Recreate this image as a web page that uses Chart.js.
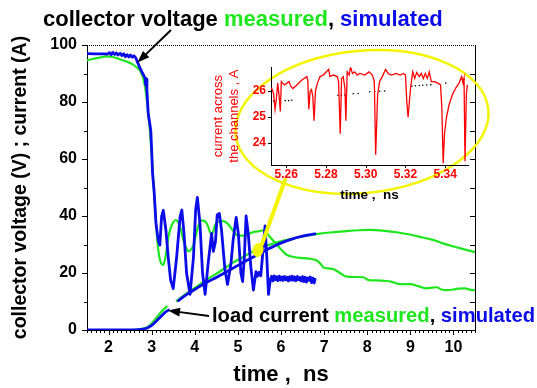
<!DOCTYPE html>
<html>
<head>
<meta charset="utf-8">
<script src="https://cdn.jsdelivr.net/npm/chart.js@4.4.1/dist/chart.umd.min.js"></script>
<style>
  html, body { margin: 0; padding: 0; background: #fff; }
  #wrap { position: relative; width: 537px; height: 388px; }
  #main { position: absolute; left: 0; top: 0; }
  #inset { position: absolute; left: 200px; top: 55px; }
</style>
</head>
<body>
<div id="wrap">
  <canvas id="main" width="537" height="388"></canvas>
  <canvas id="inset" width="285" height="155"></canvas>
</div>
<script>
const FONT = '"Liberation Sans", Arial, sans-serif';
const GREEN = '#1ee61e';
const BLUE = '#0c0ce8';
const RED = '#ff0000';
const YELLOW = '#f4f400';

// main axes
const timeTicks = [2, 3, 4, 5, 6, 7, 8, 9, 10];
const valueTicks = [0, 20, 40, 60, 80, 100];

// collector voltage, measured  [time ns, V]
const vcMeasured = [
  [1.5, 94.6], [1.6, 95.0], [1.8, 95.6], [1.95, 96.0], [2.1, 95.8], [2.25, 95.0], [2.4, 94.3],
  [2.55, 93.3], [2.65, 92.2], [2.73, 91.0], [2.8, 88.5], [2.86, 84.0], [2.92, 76.0], [2.97, 68.0],
  [3.02, 57.0], [3.06, 47.0], [3.1, 38.0], [3.14, 30.0], [3.18, 25.5], [3.22, 23.4], [3.27, 22.8],
  [3.33, 26.5], [3.39, 32.7], [3.45, 36.2], [3.5, 37.8], [3.56, 38.6], [3.62, 37.6], [3.68, 35.0],
  [3.73, 31.8], [3.8, 28.8], [3.86, 27.6], [3.91, 28.2], [3.97, 29.8], [4.03, 33.5], [4.08, 36.5],
  [4.14, 38.5], [4.24, 38.1], [4.31, 36.3], [4.35, 34.5], [4.39, 33.6], [4.43, 34.6], [4.47, 36.8],
  [4.55, 38.0], [4.66, 38.2], [4.78, 37.0], [4.89, 34.8], [4.97, 33.3], [5.1, 33.1], [5.2, 33.3],
  [5.3, 34.0], [5.4, 34.5], [5.5, 34.7], [5.59, 35.0], [5.66, 34.2], [5.74, 32.7], [5.82, 31.3],
  [5.9, 30.0], [6.0, 28.3], [6.13, 26.4], [6.3, 25.6], [6.52, 25.2], [6.7, 24.9], [6.83, 24.4],
  [6.93, 23.0], [6.98, 22.0], [7.1, 21.6], [7.21, 21.4], [7.35, 20.2], [7.52, 18.7], [7.7, 18.6],
  [7.91, 18.5], [8.03, 17.5], [8.2, 17.4], [8.45, 17.2], [8.55, 17.0], [8.76, 16.1], [9.0, 16.1],
  [9.2, 15.3], [9.38, 14.6], [9.5, 14.9], [9.61, 15.0], [9.72, 14.2], [9.84, 14.0], [10.0, 14.2],
  [10.1, 14.5], [10.27, 14.6], [10.4, 14.1], [10.5, 14.0]
];

// collector voltage, simulated
const vcSimulated = [
  [1.5, 97.0], [1.7, 96.9], [1.9, 96.9], [1.97, 96.8], [2.02, 97.3], [2.06, 96.6], [2.1, 97.4],
  [2.14, 96.7], [2.18, 97.2], [2.22, 96.5], [2.27, 97.1], [2.31, 96.3], [2.35, 96.9], [2.39, 95.9],
  [2.43, 96.6], [2.47, 95.8], [2.51, 96.5], [2.55, 95.7], [2.59, 96.2], [2.63, 95.5], [2.67, 94.0],
  [2.72, 92.3], [2.77, 90.6], [2.82, 89.2], [2.85, 88.3], [2.86, 86.0], [2.87, 88.0], [2.89, 84.0],
  [2.92, 76.0], [2.95, 73.0], [2.98, 70.0], [3.0, 63.0], [3.02, 55.0], [3.055, 49.0], [3.1, 37.4],
  [3.15, 31.6], [3.19, 29.8], [3.23, 39.8], [3.27, 42.0], [3.33, 35.1], [3.39, 24.6], [3.44, 17.5],
  [3.5, 14.5], [3.58, 25.7], [3.66, 39.8], [3.7, 42.1], [3.75, 33.9], [3.81, 19.9], [3.89, 12.5],
  [3.97, 25.7], [4.02, 42.1], [4.06, 46.5], [4.12, 37.4], [4.18, 19.9], [4.24, 12.5], [4.31, 23.4],
  [4.39, 33.9], [4.43, 27.6], [4.48, 31.0], [4.52, 40.4], [4.57, 40.9], [4.62, 35.1], [4.7, 21.1],
  [4.76, 16.0], [4.84, 23.4], [4.89, 31.6], [4.96, 39.5], [5.01, 33.9], [5.07, 19.9], [5.11, 17.0],
  [5.15, 25.7], [5.19, 40.0], [5.24, 33.9], [5.3, 22.2], [5.36, 14.0], [5.42, 20.5], [5.45, 18.8],
  [5.49, 20.2], [5.53, 19.0], [5.57, 25.7], [5.63, 36.5], [5.67, 25.7], [5.71, 12.5], [5.75, 17.5],
  [5.78, 18.8], [5.81, 17.2], [5.84, 19.0], [5.87, 17.6], [5.9, 18.7], [5.93, 17.3], [5.96, 18.9],
  [5.99, 17.5], [6.02, 18.6], [6.05, 17.4], [6.08, 18.8], [6.11, 17.6], [6.14, 18.5], [6.17, 17.2],
  [6.2, 18.7], [6.23, 17.5], [6.26, 18.9], [6.29, 17.4], [6.32, 18.6], [6.35, 17.3], [6.38, 18.8],
  [6.41, 17.6], [6.44, 18.4], [6.47, 17.2], [6.5, 18.7], [6.53, 17.0], [6.56, 18.5], [6.59, 16.8],
  [6.62, 18.3], [6.65, 17.4], [6.68, 18.6], [6.71, 16.6], [6.74, 18.2], [6.77, 16.5], [6.79, 17.8]
];

// load current, measured (null = break in the trace)
const ilMeasured = [
  [1.5, 0], [2.5, 0], [2.7, 0.2], [2.8, 0.5], [2.9, 1.0], [2.97, 1.8], [3.05, 3.2], [3.15, 5.0],
  [3.25, 6.8], [3.35, 8.2], [3.45, null], [3.58, 10.2], [3.7, 11.6], [3.85, 13.3], [4.04, 15.2],
  [4.3, 17.9], [4.59, 20.6], [4.85, 23.3], [5.13, 25.7], [5.35, 27.6], [5.59, 29.2], [5.85, 30.5],
  [6.13, 31.6], [6.4, 32.5], [6.67, 33.3], [6.9, 33.8], [7.14, 34.2], [7.52, 34.7], [7.8, 35.0],
  [8.06, 35.1], [8.35, 34.9], [8.68, 34.3], [8.95, 33.6], [9.22, 32.7], [9.5, 31.7], [9.76, 30.4],
  [10.0, 29.3], [10.25, 28.3], [10.5, 27.3]
];

// load current, simulated
const ilSimulated = [
  [1.5, 0], [2.6, 0], [2.8, 0.3], [2.9, 0.7], [3.0, 1.6], [3.1, 3.0], [3.2, 4.5], [3.3, 6.0],
  [3.39, 7.0], [3.47, null], [3.62, 10.3], [3.8, 12.3], [4.04, 14.6], [4.3, 16.9], [4.51, 18.5],
  [4.75, 20.5], [4.97, 22.4], [5.2, 24.4], [5.44, 26.3], [5.7, 28.4], [5.98, 30.4], [6.25, 31.9],
  [6.5, 32.9], [6.79, 33.7]
];

// inset: current across the channels
const zoomTicks = [5.26, 5.28, 5.30, 5.32, 5.34];
const zoomValueTicks = [24, 25, 26];
const channelCurrent = [
  [5.25233, 26.1], [5.253, 26.04], [5.25367, 25.85], [5.25433, 25.29], [5.255, 25.66], [5.25567, 26.29],
  [5.25633, 25.85], [5.257, 25.2], [5.2575, 26.35], [5.25817, 26.29], [5.259, 26.22], [5.26033, 26.29],
  [5.26133, 26.35], [5.26233, 26.16], [5.26333, 26.08], [5.26533, 26.22], [5.26783, 26.41], [5.27033, 26.54],
  [5.27083, 26.41], [5.27133, 25.29], [5.272, 25.97], [5.27267, 26.04], [5.27333, 25.79], [5.274, 24.85],
  [5.27467, 25.97], [5.27567, 26.29], [5.277, 26.54], [5.27867, 26.6], [5.28133, 26.82], [5.282, 26.54],
  [5.28367, 26.6], [5.28567, 26.54], [5.28633, 26.35], [5.28717, 24.35], [5.28783, 26.47], [5.28867, 26.54],
  [5.2895, 26.1], [5.29, 24.85], [5.29067, 26.72], [5.29167, 26.6], [5.29233, 26.91], [5.29333, 26.66],
  [5.2945, 26.72], [5.29567, 26.6], [5.297, 26.66], [5.2995, 26.6], [5.30167, 26.72], [5.30333, 26.6],
  [5.30433, 26.35], [5.305, 23.54], [5.306, 25.85], [5.307, 26.35], [5.30833, 26.54], [5.31, 26.82],
  [5.31133, 26.66], [5.31283, 26.6], [5.31533, 26.66], [5.31733, 26.6], [5.319, 26.66], [5.32, 26.6],
  [5.32067, 25.6], [5.32133, 24.98], [5.322, 25.6], [5.32267, 26.16], [5.32367, 26.72], [5.32467, 26.47],
  [5.32567, 26.7], [5.327, 26.54], [5.328, 26.66], [5.329, 26.47], [5.33, 26.66], [5.331, 26.47],
  [5.332, 26.72], [5.333, 26.35], [5.33467, 26.35], [5.33633, 26.29], [5.33767, 26.22], [5.33833, 25.35],
  [5.339, 23.22], [5.33967, 24.35], [5.34067, 24.98], [5.342, 25.47], [5.34367, 25.85], [5.34533, 26.1],
  [5.347, 26.29], [5.34833, 26.54], [5.349, 26.29], [5.3495, 26.47], [5.35, 23.29], [5.35067, 25.85],
  [5.35117, 26.22]
];
const channelMean = [
  [5.2525, 25.6], [5.2537, 25.6], [5.2567, 25.62], [5.2595, 25.62], [5.2612, 25.62], [5.2628, 25.63],
  [5.286, 25.82], [5.2878, 25.83], [5.2895, 25.84], [5.2937, 25.88], [5.2962, 25.89],
  [5.302, 25.96], [5.3045, 25.97], [5.307, 25.98], [5.3095, 25.99],
  [5.3233, 26.18], [5.325, 26.19], [5.327, 26.2], [5.3287, 26.21], [5.3307, 26.22], [5.3328, 26.23],
  [5.3403, 26.29], [5.3478, 26.43], [5.3495, 26.45]
];

const toXY = arr => arr.map(([x, y]) => ({ x, y }));

function drawParts(ctx, parts, x, y) {
  parts.forEach(([text, color]) => {
    ctx.fillStyle = color;
    ctx.fillText(text, x, y);
    x += ctx.measureText(text).width;
  });
}

function drawArrow(ctx, x1, y1, x2, y2) {
  const a = Math.atan2(y2 - y1, x2 - x1);
  const len = 12, half = 4.5;
  const c = Math.cos(a), s = Math.sin(a);
  ctx.beginPath();
  ctx.moveTo(x1, y1);
  ctx.lineTo(x2 - c * len * 0.7, y2 - s * len * 0.7);
  ctx.stroke();
  ctx.beginPath();
  ctx.moveTo(x2, y2);
  ctx.lineTo(x2 - c * len + s * half, y2 - s * len - c * half);
  ctx.lineTo(x2 - c * len - s * half, y2 - s * len + c * half);
  ctx.closePath();
  ctx.fill();
}

// frame, minor ticks, labels and callout for the main plot
const mainDecor = {
  id: 'mainDecor',
  afterDraw(chart) {
    const { ctx, chartArea: a, scales: { x, y } } = chart;
    ctx.save();
    ctx.strokeStyle = '#000';
    ctx.lineWidth = 1;
    ctx.beginPath();
    for (let i = 15; i <= 105; i++) {
      const px = Math.round(x.getPixelForValue(i / 10)) + 0.5;
      const len = i % 10 === 0 ? 5 : 3;
      ctx.moveTo(px, a.bottom);
      ctx.lineTo(px, a.bottom + len);
    }
    for (let v = 0; v <= 100; v += 10) {
      const py = Math.round(y.getPixelForValue(v)) + 0.5;
      ctx.moveTo(a.left, py);
      ctx.lineTo(a.left - (v % 20 === 0 ? 5 : 3), py);
      if (v > 0 && v < 100) {
        ctx.moveTo(a.right, py);
        ctx.lineTo(a.right - 5, py);
      }
    }
    ctx.moveTo(a.right + 0.5, a.top);
    ctx.lineTo(a.right + 0.5, a.bottom);
    ctx.stroke();

    // dotted top edge
    ctx.setLineDash([1, 1]);
    ctx.beginPath();
    ctx.moveTo(a.left, a.top + 0.5);
    ctx.lineTo(a.right, a.top + 0.5);
    ctx.stroke();
    ctx.setLineDash([]);

    // yellow callout to the inset
    ctx.strokeStyle = YELLOW;
    ctx.fillStyle = YELLOW;
    ctx.lineWidth = 2.5;
    ctx.beginPath();
    ctx.ellipse(362, 122, 127, 71, -0.1, 0, Math.PI * 2);
    ctx.stroke();
    ctx.lineWidth = 4;
    ctx.lineCap = 'round';
    ctx.beginPath();
    ctx.moveTo(285, 180);
    ctx.lineTo(262, 244);
    ctx.stroke();
    ctx.beginPath();
    ctx.ellipse(258, 250, 5.5, 7, 0.3, 0, Math.PI * 2);
    ctx.fill();

    // labels
    ctx.textBaseline = 'alphabetic';
    ctx.textAlign = 'left';
    ctx.font = 'bold 22px ' + FONT;
    drawParts(ctx, [['collector voltage ', '#000'], ['measured', GREEN], [', ', '#000'], ['simulated', BLUE]], 43, 26);
    ctx.font = 'bold 20.2px ' + FONT;
    drawParts(ctx, [['load current ', '#000'], ['measured', GREEN], [', ', '#000'], ['simulated', BLUE]], 212, 321.5);

    ctx.strokeStyle = '#000';
    ctx.fillStyle = '#000';
    ctx.lineWidth = 2;
    ctx.lineCap = 'butt';
    drawArrow(ctx, 171, 30, 137.5, 62.5);
    drawArrow(ctx, 209, 316, 168, 310.5);
    ctx.restore();
  }
};

new Chart(document.getElementById('main'), {
  type: 'line',
  data: {
    datasets: [
      { data: toXY(vcSimulated), borderColor: BLUE, borderWidth: 2.8, tension: 0 },
      { data: toXY(ilSimulated), borderColor: BLUE, borderWidth: 2.8, cubicInterpolationMode: 'monotone' },
      { data: toXY(vcMeasured), borderColor: GREEN, borderWidth: 2.2, cubicInterpolationMode: 'monotone' },
      { data: toXY(ilMeasured), borderColor: GREEN, borderWidth: 2.2, cubicInterpolationMode: 'monotone' }
    ]
  },
  options: {
    responsive: false,
    animation: false,
    devicePixelRatio: 1,
    spanGaps: false,
    layout: { padding: { top: 45, right: 62, left: 0, bottom: 0 } },
    elements: {
      point: { radius: 0 },
      line: { borderJoinStyle: 'round', borderCapStyle: 'round' }
    },
    plugins: { legend: { display: false }, tooltip: { enabled: false } },
    scales: {
      x: {
        type: 'linear', min: 1.5, max: 10.5,
        afterBuildTicks: s => { s.ticks = timeTicks.map(v => ({ value: v })); },
        afterFit: s => { s.height = 58; },
        grid: { display: false, drawTicks: false },
        border: { display: true, color: '#000', width: 1 },
        ticks: { color: '#000', padding: 8, autoSkip: false, maxRotation: 0,
                 font: { family: FONT, size: 16, weight: 'bold' } },
        title: { display: true, text: 'time ,  ns', color: '#000', padding: { top: 0, bottom: 0 },
                 font: { family: FONT, size: 22, weight: 'bold', lineHeight: 1.2 } }
      },
      y: {
        type: 'linear', min: 0, max: 100,
        afterBuildTicks: s => { s.ticks = valueTicks.map(v => ({ value: v })); },
        afterFit: s => { s.width = 87; },
        grid: { display: false, drawTicks: false },
        border: { display: true, color: '#000', width: 1 },
        ticks: { color: '#000', padding: 10, font: { family: FONT, size: 16, weight: 'bold' } },
        title: { display: true, text: 'collector voltage (V) ; current (A)', color: '#000',
                 padding: { top: 8.5, bottom: 0 },
                 font: { family: FONT, size: 19.5, weight: 'bold', lineHeight: 1.2 } }
      }
    }
  },
  plugins: [mainDecor]
});

// ticks on the inset axes
const insetTicks = {
  id: 'insetTicks',
  afterDraw(chart) {
    const { ctx, chartArea: a, scales: { x, y } } = chart;
    ctx.save();
    ctx.strokeStyle = '#000';
    ctx.lineWidth = 1;
    ctx.beginPath();
    zoomValueTicks.forEach(v => {
      const py = Math.round(y.getPixelForValue(v)) + 0.5;
      ctx.moveTo(a.left, py);
      ctx.lineTo(a.left - 3, py);
    });
    zoomTicks.forEach(v => {
      const px = Math.round(x.getPixelForValue(v)) + 0.5;
      ctx.moveTo(px, a.bottom);
      ctx.lineTo(px, a.bottom + 3);
    });
    ctx.stroke();
    ctx.restore();
  }
};

new Chart(document.getElementById('inset'), {
  type: 'line',
  data: {
    datasets: [
      { data: toXY(channelCurrent), borderColor: RED, borderWidth: 1.3, tension: 0, pointRadius: 0 },
      { data: toXY(channelMean), showLine: false, pointRadius: 0.8, pointBorderWidth: 0,
        pointBackgroundColor: '#000' }
    ]
  },
  options: {
    responsive: false,
    animation: false,
    devicePixelRatio: 1,
    layout: { padding: { top: 10, right: 17, left: 0, bottom: 0 } },
    plugins: { legend: { display: false }, tooltip: { enabled: false } },
    scales: {
      x: {
        type: 'linear', min: 5.2523, max: 5.3515,
        afterBuildTicks: s => { s.ticks = zoomTicks.map(v => ({ value: v })); },
        afterFit: s => { s.height = 45; },
        grid: { display: false, drawTicks: false },
        border: { display: true, color: '#000', width: 1 },
        ticks: { color: RED, padding: 2, autoSkip: false, maxRotation: 0, callback: v => v.toFixed(2),
                 font: { family: FONT, size: 12, weight: 'bold' } },
        title: { display: true, text: 'time ,  ns', color: '#000', padding: { top: 0, bottom: 7 },
                 font: { family: FONT, size: 13.5, weight: 'bold', lineHeight: 1.2 } }
      },
      y: {
        type: 'linear', min: 23.15, max: 26.9,
        afterBuildTicks: s => { s.ticks = zoomValueTicks.map(v => ({ value: v })); },
        afterFit: s => { s.width = 71; },
        grid: { display: false, drawTicks: false },
        border: { display: true, color: '#000', width: 1 },
        ticks: { color: RED, padding: 5, font: { family: FONT, size: 12, weight: 'bold' } },
        title: { display: true, text: ['current across', 'the channels , A'], color: RED,
                 padding: { top: 11, bottom: 0 },
                 font: { family: FONT, size: 13, lineHeight: 1.2 } }
      }
    }
  },
  plugins: [insetTicks]
});
</script>
</body>
</html>
